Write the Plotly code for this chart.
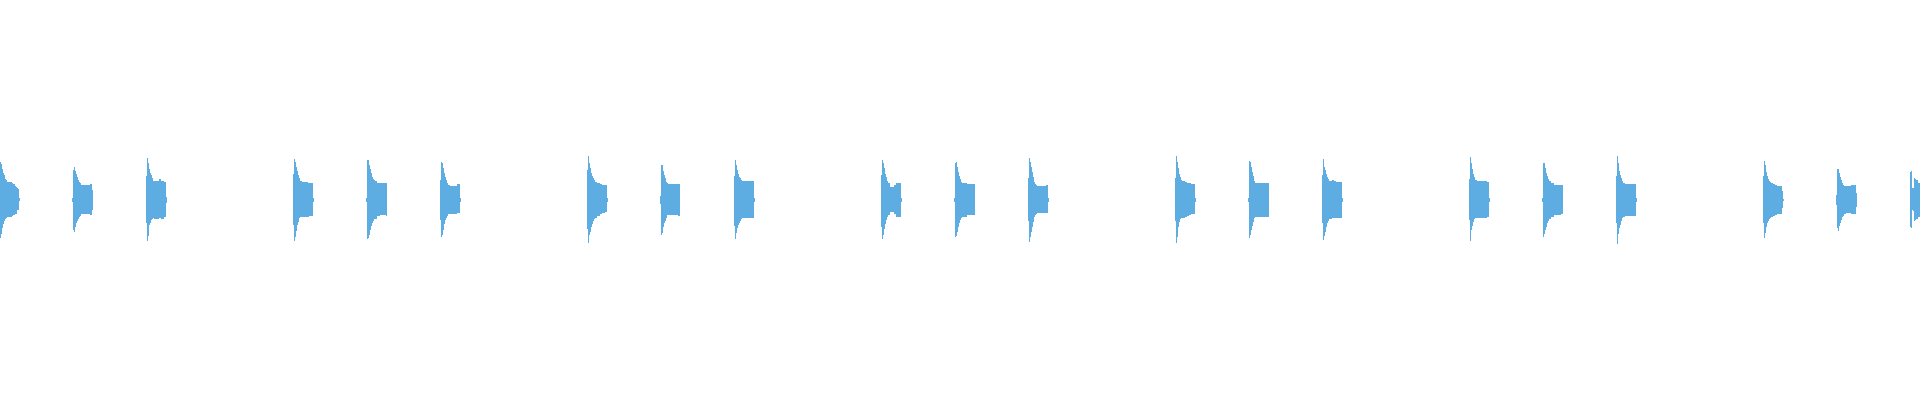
import plotly.graph_objects as go

# Onset column (time index) of each waveform burst
onsets = [0, 72, 146, 293, 366, 440, 587, 660, 734, 881, 954, 1028,
          1175, 1248, 1322, 1469, 1542, 1616, 1763, 1836, 1910]

# Upper envelope (positive peak) per column of each burst
tops = [
    [38, 36, 31, 27, 25, 21, 20, 18, 18, 18, 18, 18, 17, 16, 16, 14, 13, 12, 11, 2],
    [2, 30, 33, 29, 26, 23, 20, 18, 17, 15, 15, 15, 15, 15, 15, 15, 15, 15, 16, 16, 10],
    [24, 42, 37, 31, 27, 25, 22, 19, 19, 19, 19, 19, 19, 21, 21, 19, 19, 19, 18, 18, 3],
    [26, 41, 38, 33, 29, 25, 22, 19, 19, 18, 18, 18, 18, 18, 18, 17, 17, 17, 17, 17, 2],
    [2, 40, 40, 35, 31, 27, 23, 21, 20, 19, 19, 17, 17, 17, 17, 17, 17, 17, 17, 17, 17],
    [20, 38, 37, 32, 27, 23, 20, 17, 15, 15, 14, 14, 14, 14, 14, 14, 14, 16, 16, 16, 2],
    [30, 44, 37, 32, 27, 24, 22, 20, 18, 18, 17, 17, 17, 16, 16, 15, 15, 15, 15, 15, 2],
    [4, 35, 35, 29, 25, 22, 18, 17, 16, 16, 16, 16, 16, 16, 16, 16, 16, 16, 16, 16],
    [24, 40, 35, 30, 26, 23, 22, 20, 19, 19, 19, 19, 19, 19, 19, 19, 19, 19, 19, 19, 2],
    [25, 40, 37, 32, 26, 23, 19, 17, 17, 13, 13, 13, 13, 15, 15, 17, 17, 17, 17, 17, 2],
    [2, 37, 38, 33, 28, 24, 21, 18, 17, 17, 17, 17, 17, 16, 16, 16, 16, 16, 16, 16, 16],
    [22, 42, 38, 33, 28, 23, 18, 16, 15, 14, 14, 14, 14, 14, 14, 14, 14, 14, 15, 15, 2],
    [22, 44, 38, 32, 26, 23, 20, 19, 19, 19, 18, 18, 17, 17, 17, 17, 16, 16, 16, 16, 2],
    [2, 39, 38, 33, 28, 24, 19, 17, 17, 17, 17, 17, 17, 17, 17, 17, 17, 17, 17, 17, 17],
    [25, 41, 33, 30, 26, 23, 21, 19, 19, 19, 20, 20, 19, 19, 18, 18, 18, 18, 18, 18, 2],
    [21, 43, 37, 31, 26, 23, 20, 20, 19, 19, 19, 19, 19, 19, 19, 19, 19, 19, 18, 18, 2],
    [2, 37, 37, 32, 27, 24, 21, 19, 19, 17, 17, 17, 15, 15, 15, 15, 15, 15, 15, 15, 15],
    [24, 44, 37, 29, 25, 22, 19, 17, 17, 16, 16, 16, 16, 16, 16, 16, 16, 16, 16, 16, 2],
    [24, 39, 35, 28, 24, 21, 19, 18, 17, 17, 16, 16, 15, 15, 14, 14, 14, 14, 14, 9, 1],
    [5, 31, 31, 27, 23, 20, 17, 15, 14, 14, 14, 14, 14, 14, 14, 15, 15, 15, 15, 15, 7],
    [28, 29, 12, 12, 22, 21, 20, 20, 17, 17],
]

# Lower envelope (negative peak magnitude) per column of each burst
bots = [
    [38, 34, 28, 24, 21, 19, 18, 17, 17, 17, 17, 17, 16, 15, 15, 14, 14, 10, 10, 1],
    [2, 30, 32, 27, 23, 21, 19, 17, 16, 14, 14, 14, 14, 14, 14, 14, 14, 14, 15, 15, 10],
    [23, 41, 36, 25, 23, 20, 19, 18, 19, 19, 19, 19, 19, 18, 18, 19, 19, 19, 17, 17, 3],
    [25, 41, 37, 31, 25, 22, 18, 17, 17, 17, 17, 17, 17, 17, 17, 17, 16, 16, 16, 16, 2],
    [2, 39, 38, 35, 30, 26, 23, 21, 19, 19, 19, 16, 16, 16, 15, 15, 15, 15, 15, 15, 16],
    [20, 37, 35, 30, 24, 20, 18, 16, 14, 14, 14, 14, 14, 14, 14, 14, 14, 13, 13, 13, 2],
    [29, 43, 35, 32, 27, 24, 21, 19, 18, 18, 16, 16, 16, 14, 14, 13, 13, 13, 12, 12, 2],
    [4, 35, 33, 27, 23, 21, 18, 15, 15, 15, 15, 15, 15, 15, 15, 15, 15, 15, 16, 16],
    [26, 39, 33, 28, 25, 23, 21, 19, 18, 18, 18, 18, 18, 18, 18, 18, 18, 18, 18, 18, 2],
    [27, 39, 35, 29, 24, 20, 17, 15, 15, 12, 12, 12, 12, 14, 14, 17, 17, 17, 17, 17, 2],
    [2, 37, 36, 32, 27, 23, 20, 18, 17, 17, 17, 17, 17, 15, 15, 15, 15, 15, 15, 15, 15],
    [21, 42, 37, 32, 27, 22, 17, 15, 14, 13, 13, 13, 13, 13, 13, 13, 13, 13, 13, 13, 2],
    [21, 43, 37, 27, 22, 19, 18, 18, 18, 18, 17, 17, 16, 16, 15, 15, 14, 14, 14, 14, 2],
    [2, 38, 35, 30, 26, 22, 18, 17, 17, 17, 17, 17, 17, 17, 17, 17, 17, 17, 17, 17, 17],
    [23, 40, 36, 32, 27, 23, 21, 19, 19, 19, 18, 18, 18, 18, 18, 18, 18, 18, 18, 18, 2],
    [20, 41, 30, 26, 22, 19, 18, 18, 18, 18, 18, 18, 18, 18, 18, 18, 18, 18, 17, 17, 2],
    [2, 37, 34, 30, 27, 23, 21, 19, 19, 17, 17, 17, 15, 15, 15, 15, 15, 15, 15, 14, 14],
    [23, 44, 34, 28, 25, 21, 18, 17, 17, 16, 16, 16, 16, 16, 16, 16, 16, 16, 16, 16, 2],
    [23, 38, 33, 27, 23, 21, 19, 18, 17, 17, 16, 16, 15, 15, 14, 14, 14, 14, 14, 8, 1],
    [5, 28, 31, 26, 23, 20, 17, 16, 14, 14, 13, 13, 13, 13, 13, 14, 14, 14, 14, 14, 7],
    [27, 28, 10, 11, 21, 20, 19, 19, 17, 17],
]

WAVE_COLOR = "#5dade2"

xs, heights, bases = [], [], []
for start, top, bot in zip(onsets, tops, bots):
    for i, (t, b) in enumerate(zip(top, bot)):
        xs.append(start + i)
        heights.append(t + b)
        bases.append(-b)

fig = go.Figure(
    go.Bar(
        x=xs,
        y=heights,
        base=bases,
        width=1,
        marker=dict(color=WAVE_COLOR, line=dict(width=0)),
        hoverinfo="skip",
    )
)

fig.update_layout(
    width=1920,
    height=400,
    margin=dict(l=0, r=0, t=0, b=0),
    paper_bgcolor="white",
    plot_bgcolor="white",
    showlegend=False,
    bargap=0,
    xaxis=dict(visible=False, range=[-0.5, 1919.5], fixedrange=True),
    yaxis=dict(visible=False, range=[-200, 200], fixedrange=True),
)

fig.write_html(
    "out.html",
    config={"displayModeBar": False},
    post_script="document.body.style.margin='0';document.body.style.overflow='hidden';",
)
